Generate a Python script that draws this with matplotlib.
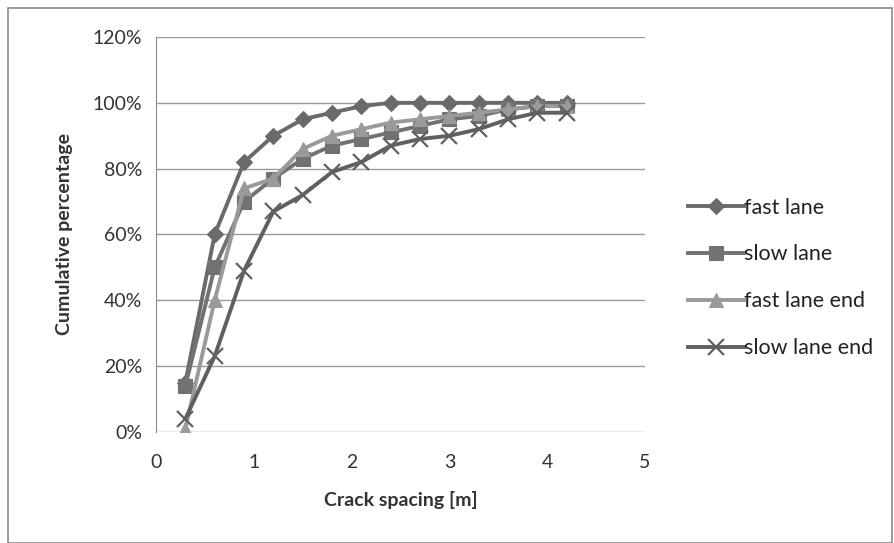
import matplotlib
matplotlib.use("Agg")
import matplotlib.pyplot as plt
from matplotlib.ticker import PercentFormatter
from matplotlib.patches import Rectangle

plt.rcParams['font.family'] = ['Lato', 'DejaVu Sans']

spacing = [0.3, 0.6, 0.9, 1.2, 1.5, 1.8, 2.1, 2.4, 2.7, 3.0, 3.3, 3.6, 3.9, 4.2]
fast_lane = [15, 60, 82, 90, 95, 97, 99, 100, 100, 100, 100, 100, 100, 100]
slow_lane = [14, 50, 70, 77, 83, 87, 89, 91, 93, 95, 96, 98, 99, 99]
fast_lane_end = [1, 40, 74, 77, 86, 90, 92, 94, 95, 96, 97, 98, 99, 99]
slow_lane_end = [4, 23, 49, 67, 72, 79, 82, 87, 89, 90, 92, 95, 97, 97]

series = [
    ("fast lane", fast_lane, "D", "#6a6a6a", 8.5),
    ("slow lane", slow_lane, "s", "#727272", 10),
    ("fast lane end", fast_lane_end, "^", "#9a9a9a", 10),
    ("slow lane end", slow_lane_end, "x", "#606060", 11),
]

fig = plt.figure(figsize=(8.94, 5.43), dpi=100)
fig.patches.append(Rectangle((8/894, 0.0), 884/894, 1 - 8/543, transform=fig.transFigure,
                             fill=False, edgecolor="#8a8a8a", linewidth=1.2))
ax = fig.add_axes([156/894, 1 - 432/543, (645 - 156)/894, (432 - 37)/543])

for name, vals, m, c, ms in series:
    ax.plot(spacing, vals, marker=m, color=c, linewidth=2.8, markersize=ms,
            markeredgewidth=1.6 if m == "x" else 0.8, label=name)

ax.set_xlim(0, 5)
ax.set_ylim(0, 120)
ax.set_yticks(range(0, 121, 20))
ax.set_xticks(range(0, 6))
ax.yaxis.set_major_formatter(PercentFormatter(decimals=0))
ax.grid(axis='y', color="#9a9a9a", linewidth=1.0)
ax.set_axisbelow(True)
for s in ["top", "right", "bottom"]:
    ax.spines[s].set_visible(False)
ax.spines["left"].set_color("#8a8a8a")
ax.tick_params(length=0, labelsize=14, colors="#333333", pad=10)
ax.tick_params(axis='x', pad=16)

ax.set_xlabel("Crack spacing [m]", fontsize=14, fontweight="bold", color="#333333", labelpad=14)
ax.set_ylabel("Cumulative percentage", fontsize=14, fontweight="bold", color="#333333", labelpad=14)

leg = ax.legend(loc="center left", bbox_to_anchor=(1.07, 0.39), frameon=False, fontsize=15.5,
                handlelength=2.6, handletextpad=0.0, labelspacing=1.25, borderaxespad=0)
for t in leg.get_texts():
    t.set_color("#222222")

fig.savefig("out.png", dpi=100)
